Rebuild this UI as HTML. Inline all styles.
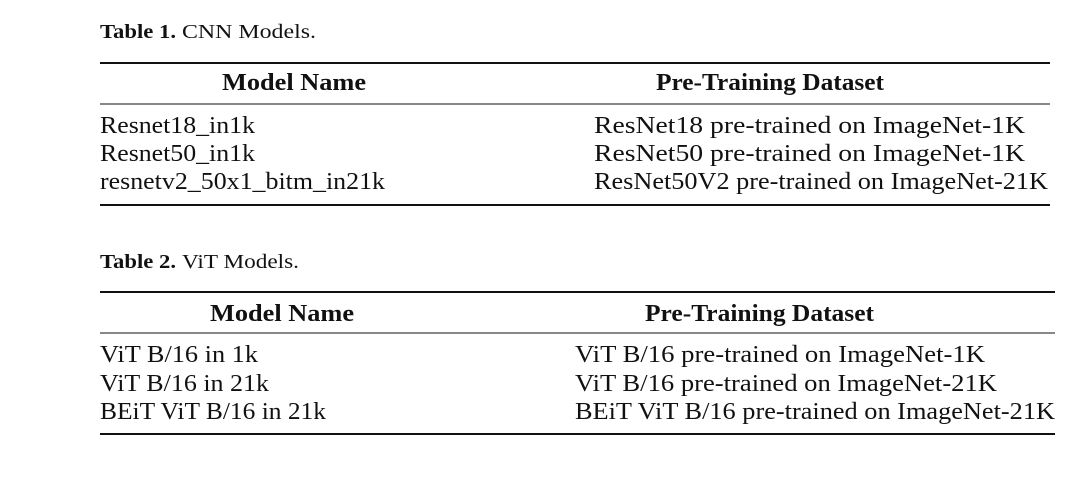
<!DOCTYPE html>
<html><head><meta charset="utf-8"><style>
html,body{margin:0;padding:0;background:#fff;}
svg{display:block;}
text{font-family:"Liberation Serif",serif;fill:#111;}
.b{font-weight:bold;}
</style></head><body>
<svg width="1086" height="480" viewBox="0 0 1086 480" xmlns="http://www.w3.org/2000/svg">
<rect width="1086" height="480" fill="#fff"/>
<!-- Table 1 -->
<text class="b" x="100" y="38" font-size="20" textLength="76" lengthAdjust="spacingAndGlyphs">Table 1.</text>
<text x="182" y="38" font-size="20" textLength="134" lengthAdjust="spacingAndGlyphs">CNN Models.</text>
<line x1="100" x2="1050" y1="63" y2="63" stroke="#111" stroke-width="2"/>
<text class="b" x="222" y="90" font-size="24" textLength="144" lengthAdjust="spacingAndGlyphs">Model Name</text>
<text class="b" x="656" y="90" font-size="24" textLength="228" lengthAdjust="spacingAndGlyphs">Pre-Training Dataset</text>
<line x1="100" x2="1050" y1="104" y2="104" stroke="#111" stroke-width="1"/>
<text x="100" y="133" font-size="24" textLength="155" lengthAdjust="spacingAndGlyphs">Resnet18_in1k</text>
<text x="100" y="161" font-size="24" textLength="155" lengthAdjust="spacingAndGlyphs">Resnet50_in1k</text>
<text x="100" y="189" font-size="24" textLength="285" lengthAdjust="spacingAndGlyphs">resnetv2_50x1_bitm_in21k</text>
<text x="594" y="133" font-size="24" textLength="431" lengthAdjust="spacingAndGlyphs">ResNet18 pre-trained on ImageNet-1K</text>
<text x="594" y="161" font-size="24" textLength="431" lengthAdjust="spacingAndGlyphs">ResNet50 pre-trained on ImageNet-1K</text>
<text x="594" y="189" font-size="24" textLength="454" lengthAdjust="spacingAndGlyphs">ResNet50V2 pre-trained on ImageNet-21K</text>
<line x1="100" x2="1050" y1="205" y2="205" stroke="#111" stroke-width="2"/>
<!-- Table 2 -->
<text class="b" x="100" y="268" font-size="20" textLength="76" lengthAdjust="spacingAndGlyphs">Table 2.</text>
<text x="182" y="268" font-size="20" textLength="117" lengthAdjust="spacingAndGlyphs">ViT Models.</text>
<line x1="100" x2="1055" y1="292" y2="292" stroke="#111" stroke-width="2"/>
<text class="b" x="210" y="321" font-size="24" textLength="144" lengthAdjust="spacingAndGlyphs">Model Name</text>
<text class="b" x="645" y="321" font-size="24" textLength="229" lengthAdjust="spacingAndGlyphs">Pre-Training Dataset</text>
<line x1="100" x2="1055" y1="333" y2="333" stroke="#111" stroke-width="1"/>
<text x="100" y="362" font-size="24" textLength="158" lengthAdjust="spacingAndGlyphs">ViT B/16 in 1k</text>
<text x="100" y="391" font-size="24" textLength="169" lengthAdjust="spacingAndGlyphs">ViT B/16 in 21k</text>
<text x="100" y="419" font-size="24" textLength="226" lengthAdjust="spacingAndGlyphs">BEiT ViT B/16 in 21k</text>
<text x="575" y="362" font-size="24" textLength="410" lengthAdjust="spacingAndGlyphs">ViT B/16 pre-trained on ImageNet-1K</text>
<text x="575" y="391" font-size="24" textLength="422" lengthAdjust="spacingAndGlyphs">ViT B/16 pre-trained on ImageNet-21K</text>
<text x="575" y="419" font-size="24" textLength="480" lengthAdjust="spacingAndGlyphs">BEiT ViT B/16 pre-trained on ImageNet-21K</text>
<line x1="100" x2="1055" y1="434" y2="434" stroke="#111" stroke-width="2"/>
</svg>
</body></html>
